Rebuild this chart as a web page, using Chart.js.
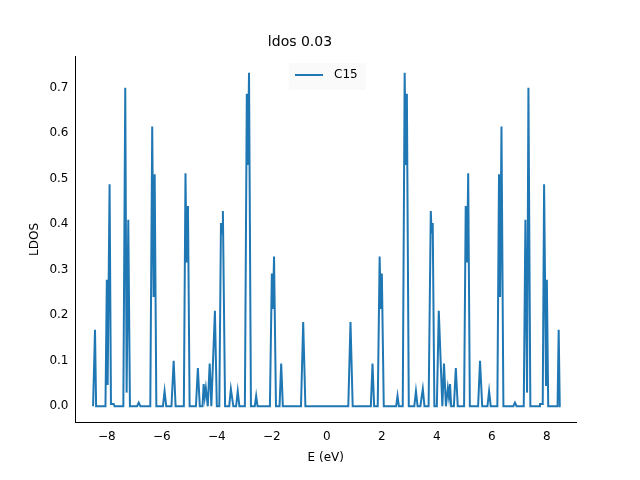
<!DOCTYPE html>
<html>
<head>
<script src="https://cdn.jsdelivr.net/npm/chart.js@4"></script>
<style>body{margin:0;background:#fff}</style>
</head>
<body>
<canvas id="c" width="640" height="480"></canvas>
<script>
// energy (eV) and LDOS values
const energy = [-8.5,-8.47,-8.43,-8.39,-8.05,-8.0,-7.97,-7.9,-7.85,-7.75,-7.72,-7.4,-7.33,-7.28,-7.22,-7.16,-6.9,-6.84,-6.78,
  -6.42,-6.35,-6.3,-6.26,-6.2,-5.96,-5.9,-5.84,-5.65,-5.57,-5.5,-5.2,-5.14,-5.1,-5.05,-4.99,-4.76,-4.69,-4.62,
  -4.52,-4.48,-4.44,-4.4,-4.33,-4.26,-4.2,-4.07,-4.0,-3.91,-3.85,-3.81,-3.78,-3.7,-3.55,-3.49,-3.4,-3.3,-3.24,-3.18,
  -2.98,-2.91,-2.87,-2.83,-2.76,-2.62,-2.57,-2.52,-2.07,-2.0,-1.96,-1.92,-1.85,-1.72,-1.66,-1.6,-0.94,-0.86,-0.78,
  0.78,0.86,0.94,1.6,1.66,1.72,1.85,1.92,1.96,2.0,2.07,2.52,2.57,2.62,2.76,2.83,2.87,2.91,2.98,
  3.18,3.24,3.3,3.4,3.49,3.55,3.7,3.78,3.81,3.85,3.91,4.0,4.07,4.2,4.26,4.33,4.4,4.44,4.48,4.52,
  4.62,4.69,4.76,4.99,5.05,5.1,5.14,5.2,5.5,5.57,5.65,5.84,5.9,5.96,6.2,6.26,6.3,6.35,6.42,
  6.78,6.84,6.9,7.16,7.22,7.28,7.33,7.4,7.72,7.75,7.85,7.9,7.97,8.0,8.05,8.39,8.43,8.47,8.5];
const ldos = [0,0,0.168,0,0,0.278,0.047,0.488,0.005,0.005,0,0,0.70,0.03,0.41,0,0,0.008,0,
  0,0.615,0.24,0.51,0,0,0.033,0,0,0.10,0,0,0.512,0.316,0.44,0,0,0.084,0,
  0,0.049,0.02,0.04,0,0.094,0,0.21,0,0,0.403,0.38,0.429,0,0,0.038,0,0,0.033,0,
  0,0.687,0.53,0.733,0,0,0.023,0,0,0.292,0.214,0.329,0,0,0.094,0,0,0.185,0,
  0,0.185,0,0,0.094,0,0,0.329,0.214,0.292,0,0,0.023,0,0,0.733,0.53,0.687,0,
  0,0.033,0,0,0.038,0,0,0.429,0.38,0.403,0,0,0.21,0,0.094,0,0.04,0.02,0.049,0,
  0,0.084,0,0,0.44,0.316,0.512,0,0,0.10,0,0,0.033,0,0,0.51,0.24,0.615,0,
  0,0.008,0,0,0.41,0.03,0.70,0,0,0.005,0.005,0.488,0.047,0.278,0,0,0.168,0,0];
const xTicks = [-8,-6,-4,-2,0,2,4,6,8];
const yTicks = [0,0.1,0.2,0.3,0.4,0.5,0.6,0.7];
const seriesName = "C15";

const points = energy.map((e, i) => ({x: e, y: ldos[i]}));
const font = {family: "DejaVu Sans", size: 12};

const legendBox = {
  id: "legendBox",
  afterDraw(chart) {
    const ctx = chart.ctx;
    ctx.save();
    ctx.fillStyle = "rgba(250,250,250,0.9)";
    ctx.fillRect(289, 63, 77, 27);
    ctx.strokeStyle = "#1f77b4";
    ctx.lineWidth = 2;
    ctx.beginPath(); ctx.moveTo(295, 75); ctx.lineTo(323, 75); ctx.stroke();
    ctx.fillStyle = "#000";
    ctx.font = "12px 'DejaVu Sans'";
    ctx.textBaseline = "middle";
    ctx.fillText(seriesName, 334, 75);
    ctx.restore();
  }
};

new Chart(document.getElementById("c"), {
  type: "line",
  data: {datasets: [{data: points, borderColor: "#1f77b4", borderWidth: 2, pointRadius: 0, tension: 0}]},
  options: {
    responsive: false, animation: false,
    layout: {padding: {left: 24, right: 64, top: 10, bottom: 11}},
    plugins: {
      legend: {display: false}, tooltip: {enabled: false},
      title: {display: true, text: "ldos 0.03", color: "#000", font: {family: "DejaVu Sans", size: 14, weight: "normal"}, padding: {top: 24, bottom: 6}}
    },
    scales: {
      x: {type: "linear", min: -9.14, max: 9.06,
        afterBuildTicks: s => { s.ticks = xTicks.map(v => ({value: v})); },
        grid: {display: false, tickLength: 4},
        border: {color: "#000"},
        ticks: {color: "#000", font, maxRotation: 0, callback: v => v < 0 ? "\u2212" + (-v) : v},
        title: {display: true, text: "E (eV)", color: "#000", font}},
      y: {min: -0.035, max: 0.768,
        afterBuildTicks: s => { s.ticks = yTicks.map(v => ({value: v})); },
        grid: {display: false, tickLength: 4},
        border: {color: "#000"},
        ticks: {color: "#000", font, callback: v => v.toFixed(1)},
        title: {display: true, text: "LDOS", color: "#000", font}}
    }
  },
  plugins: [legendBox]
});
</script>
</body>
</html>
